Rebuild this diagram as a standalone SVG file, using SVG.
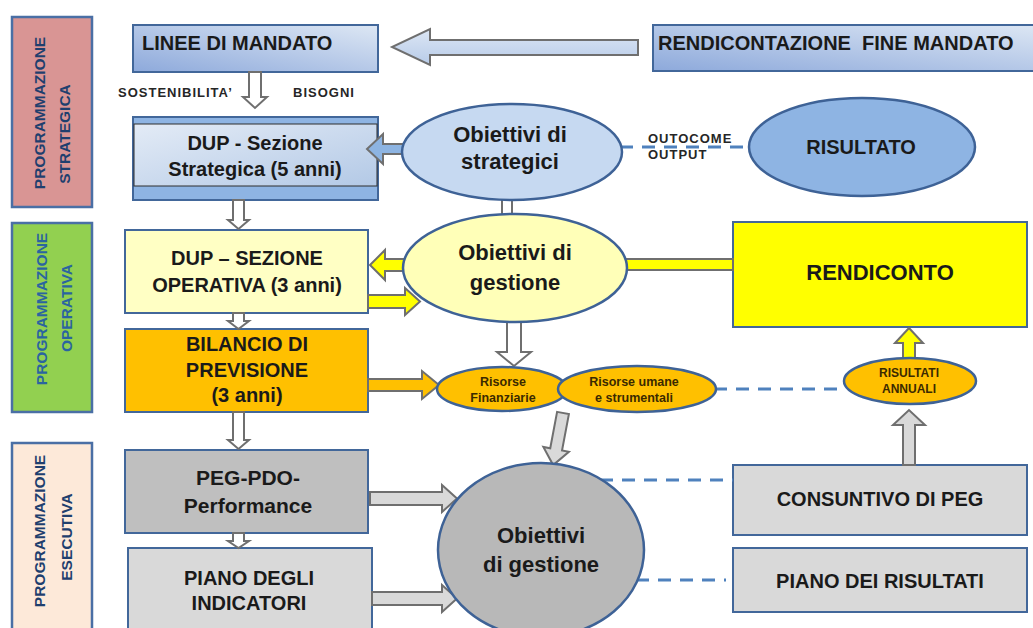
<svg xmlns="http://www.w3.org/2000/svg" width="1033" height="628" viewBox="0 0 1033 628">
<defs>
<linearGradient id="gBlue" x1="0" y1="1" x2="1" y2="0">
<stop offset="0" stop-color="#8DA9DB"/>
<stop offset="1" stop-color="#DDE7F4"/>
</linearGradient>
<linearGradient id="gDup" x1="0" y1="0" x2="1" y2="1">
<stop offset="0" stop-color="#E3EBF6"/>
<stop offset="1" stop-color="#B3C9E6"/>
</linearGradient>
<linearGradient id="gArrowBlue" x1="0" y1="0" x2="0" y2="1">
<stop offset="0" stop-color="#DCE6F4"/>
<stop offset="1" stop-color="#B7CBE8"/>
</linearGradient>
<style>
.lbl{stroke:#4A6FA5;stroke-width:2.5}
.vt{font-family:"Liberation Sans",Arial,sans-serif;font-weight:bold;font-size:15.5px;text-anchor:middle}
.box{stroke:#42679A;stroke-width:2}
.t{font-family:"Liberation Sans",Arial,sans-serif;font-weight:bold;fill:#1A1A1A;text-anchor:middle}
.t20{font-size:20px}
.t22{font-size:22px}
.sm{font-family:"Liberation Sans",Arial,sans-serif;font-weight:bold;font-size:13px;letter-spacing:1px;fill:#262626}
.rs{font-family:"Liberation Sans",Arial,sans-serif;font-weight:bold;font-size:12.5px;fill:#3B2A00;text-anchor:middle}
.ell{stroke:#3E6296;stroke-width:2.5}
.arr{stroke:#6F6F6F;stroke-width:2;stroke-linejoin:miter}
.dash{stroke:#4F81BD;stroke-width:3;stroke-dasharray:13 9;fill:none}
</style>
</defs>

<g id="label-strategica">
<rect class="lbl" x="12" y="17" width="80" height="190" fill="#D99594"/>
<text class="vt" fill="#1F3F6E" transform="translate(45,113) rotate(-90)">PROGRAMMAZIONE</text>
<text class="vt" fill="#1F3F6E" transform="translate(70,134) rotate(-90)">STRATEGICA</text>
</g>
<g id="label-operativa">
<rect class="lbl" x="12" y="223" width="80" height="189" fill="#92D050"/>
<text class="vt" fill="#2A64A0" transform="translate(47,309) rotate(-90)">PROGRAMMAZIONE</text>
<text class="vt" fill="#2A64A0" transform="translate(72,308) rotate(-90)">OPERATIVA</text>
</g>
<g id="label-esecutiva">
<rect class="lbl" x="12" y="443" width="80" height="190" fill="#FDE9D9"/>
<text class="vt" fill="#1F3F6E" transform="translate(45,531) rotate(-90)">PROGRAMMAZIONE</text>
<text class="vt" fill="#1F3F6E" transform="translate(72,537) rotate(-90)">ESECUTIVA</text>
</g>

<g id="linee-di-mandato">
<rect class="box" x="133" y="25" width="245" height="47" fill="url(#gBlue)"/>
<text class="t t20" x="142" y="50" style="text-anchor:start">LINEE DI MANDATO</text>
</g>
<g id="rendicontazione-fine-mandato">
<rect class="box" x="653" y="25" width="390" height="46" fill="url(#gBlue)"/>
<text class="t t20" x="658" y="50" style="text-anchor:start">RENDICONTAZIONE&#160; FINE MANDATO</text>
</g>
<g id="dup-strategica">
<rect class="box" x="133" y="117" width="245" height="83" fill="#8EB4E3"/>
<rect x="134" y="124" width="243" height="62" fill="url(#gDup)" stroke="#2F2F2F" stroke-width="1"/>
<text class="t t20" x="255" y="150">DUP - Sezione</text>
<text class="t t20" x="255" y="176">Strategica (5 anni)</text>
</g>
<g id="dup-operativa">
<rect class="box" x="125" y="230" width="243" height="83" fill="#FFFFC4"/>
<text class="t t20" x="247" y="265">DUP – SEZIONE</text>
<text class="t t20" x="247" y="292">OPERATIVA (3 anni)</text>
</g>
<g id="bilancio-previsione">
<rect class="box" x="125" y="329" width="243" height="83" fill="#FFC000"/>
<text class="t t20" x="247" y="351">BILANCIO DI</text>
<text class="t t20" x="247" y="377">PREVISIONE</text>
<text class="t t20" x="247" y="402">(3 anni)</text>
</g>
<g id="peg-pdo">
<rect class="box" x="125" y="450" width="243" height="83" fill="#BFBFBF"/>
<text class="t" style="font-size:21px" x="248" y="485">PEG-PDO-</text>
<text class="t" style="font-size:21px" x="248" y="513">Performance</text>
</g>
<g id="piano-indicatori">
<rect class="box" x="128" y="548" width="244" height="90" fill="#D9D9D9"/>
<text class="t t20" x="249" y="585">PIANO DEGLI</text>
<text class="t t20" x="249" y="610">INDICATORI</text>
</g>
<g id="rendiconto">
<rect class="box" x="733" y="222" width="294" height="105" fill="#FFFF00"/>
<text class="t" style="font-size:22px" x="880" y="280">RENDICONTO</text>
</g>
<g id="consuntivo-peg">
<rect class="box" x="733" y="465" width="294" height="70" fill="#D9D9D9"/>
<text class="t t20" x="880" y="506">CONSUNTIVO DI PEG</text>
</g>
<g id="piano-risultati">
<rect class="box" x="733" y="548" width="294" height="64" fill="#D9D9D9"/>
<text class="t t20" x="880" y="588">PIANO DEI RISULTATI</text>
</g>

<g id="connectors">
<polygon class="arr" fill="url(#gArrowBlue)" points="638,40 430,40 430,29 392,47 430,65 430,55 638,55"/>
<polygon class="arr" fill="#FFFFFF" points="249,72 261,72 261,97 267,97 255,108 243,97 249,97"/>
<text class="sm" x="118" y="97">SOSTENIBILITA’</text>
<text class="sm" x="293" y="97">BISOGNI</text>
<polygon class="arr" fill="#8DB4E2" points="410,144 383,144 383,134 367,149 383,164 383,154 410,154"/>
<polygon class="arr" stroke="#555" fill="#FFFFFF" points="233,200 244,200 244,220 249,220 238.5,229 228,220 233,220"/>
<polygon class="arr" stroke="#555" fill="#FFFFFF" points="233,313 244,313 244,321 249,321 238.5,329 228,321 233,321"/>
<polygon class="arr" stroke="#555" fill="#FFFFFF" points="233,412 244,412 244,440 249,440 238.5,449 228,440 233,440"/>
<polygon class="arr" stroke="#555" fill="#FFFFFF" points="233,533 244,533 244,541 249,541 238.5,548 228,541 233,541"/>
<rect class="arr" x="502" y="194" width="10" height="26" fill="#FFFFFF"/>
<polygon class="arr" fill="#FFFF00" points="412,259 385,259 385,250 370,265 385,280 385,271 412,271"/>
<polygon class="arr" fill="#FFFF00" points="368,295 405,295 405,288 420,301.5 405,315 405,308 368,308"/>
<rect class="arr" x="615" y="259" width="118" height="11" fill="#FFFF00"/>
<polygon class="arr" fill="#FFFFFF" points="507,318 521,318 521,352 531,352 514,366 497,352 507,352"/>
<polygon class="arr" fill="#FFC000" points="368,379 422,379 422,371 439,385 422,399 422,391 368,391"/>
<polygon class="arr" fill="#D9D9D9" transform="translate(563,413) rotate(10.7)" points="-6,0 6,0 6,37 13,37 0,53 -13,37 -6,37"/>
<polygon class="arr" fill="#FFFF00" points="903,360 903,343 895,343 909,328 923,343 915,343 915,360"/>
<polygon class="arr" fill="#D9D9D9" points="903,465 903,425 893,425 909,410 925,425 915,425 915,465"/>
<polygon class="arr" fill="#D9D9D9" points="370,492 442,492 442,485 457,498.5 442,512 442,505 370,505"/>
<polygon class="arr" fill="#D9D9D9" points="372,592 442,592 442,585 457,598.5 442,612 442,605 372,605"/>
<line class="dash" x1="620" y1="147" x2="750" y2="147"/>
<text class="sm" x="648" y="143">OUTOCOME</text>
<text class="sm" x="648" y="159">OUTPUT</text>
<line class="dash" x1="714" y1="389" x2="846" y2="389"/>
<line class="dash" x1="600" y1="480" x2="733" y2="480"/>
<line class="dash" x1="636" y1="580" x2="726" y2="580"/>
</g>

<g id="obiettivi-strategici">
<ellipse class="ell" cx="512" cy="152" rx="110" ry="48" fill="#C6D9F1"/>
<text class="t t22" x="510" y="142">Obiettivi di</text>
<text class="t t22" x="510" y="169">strategici</text>
</g>
<g id="risultato">
<ellipse class="ell" cx="862" cy="147" rx="113" ry="49" fill="#8EB4E3"/>
<text class="t t20" x="861" y="154">RISULTATO</text>
</g>
<g id="obiettivi-gestione-op">
<ellipse class="ell" cx="515" cy="268" rx="112" ry="54" fill="#FFFFB8"/>
<text class="t t22" x="515" y="260">Obiettivi di</text>
<text class="t t22" x="515" y="290">gestione</text>
</g>
<g id="risorse-finanziarie">
<ellipse class="ell" cx="502" cy="389" rx="65" ry="22" fill="#FFC000"/>
<text class="rs" x="503" y="386">Risorse</text>
<text class="rs" x="503" y="402">Finanziarie</text>
</g>
<g id="risorse-umane">
<ellipse class="ell" cx="637" cy="389" rx="79" ry="23" fill="#FFC000"/>
<text class="rs" x="634" y="386">Risorse umane</text>
<text class="rs" x="634" y="402">e strumentali</text>
</g>
<g id="risultati-annuali">
<ellipse class="ell" cx="910" cy="381" rx="66" ry="23" fill="#FFC000"/>
<text class="rs" style="font-size:12px" x="909" y="377">RISULTATI</text>
<text class="rs" style="font-size:12px" x="909" y="393">ANNUALI</text>
</g>
<g id="obiettivi-gestione-esec">
<ellipse class="ell" cx="541" cy="550" rx="103" ry="87" fill="#B8B8B8"/>
<text class="t t22" x="541" y="543">Obiettivi</text>
<text class="t t22" x="541" y="572">di gestione</text>
</g>
</svg>
